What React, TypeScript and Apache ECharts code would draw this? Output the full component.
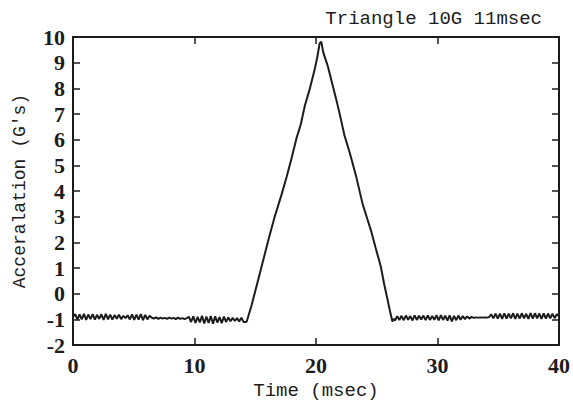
import React, { useEffect, useRef } from "react";
import * as echarts from "echarts";

const TITLE = "Triangle 10G 11msec";
const X_NAME = "Time (msec)";
const Y_NAME = "Acceralation (G's)";

const SAMPLE_STEP = 0.18;

// baseline before the pulse, sampled from t = 0
const LEFT_START = 0;
const leftBaseline = [
  -0.90, -0.79, -1.01, -0.80, -1.00, -0.78, -1.02, -0.81, -0.99, -0.79, -1.01, -0.82,
  -0.98, -0.80, -1.02, -0.78, -1.00, -0.81, -1.01, -0.83, -0.97, -0.82, -0.99, -0.86,
  -0.95, -0.84, -1.00, -0.80, -1.02, -0.81, -1.01, -0.79, -1.03, -0.82, -1.00, -0.86,
  -0.93, -0.97, -0.92, -0.98, -0.93, -0.97, -0.94, -0.98, -0.93, -0.97, -0.94, -0.99,
  -0.93, -0.98, -0.95, -0.99, -0.95,
  -0.90, -1.10, -0.88, -1.14, -0.90, -1.12, -0.86, -1.16, -0.89, -1.14, -0.87, -1.17,
  -0.88, -1.12, -0.91, -1.15, -0.89, -1.10, -0.92, -1.07, -0.94, -1.06, -0.95, -1.08,
  -0.93, -1.10, -1.10,
];

// triangular pulse
const pulseTimes = [
  14.3, 14.7, 15.3, 16.08, 16.6, 17.17, 17.58, 18.0, 18.39, 18.75, 19.08, 19.5, 19.89,
  20.1, 20.3, 20.43, 20.6, 20.98, 21.3, 21.66, 22.0, 22.34, 22.8, 23.29, 23.84, 24.2,
  24.52, 24.9, 25.33, 25.6, 25.88, 26.1, 26.29, 26.4,
];
const pulseValues = [
  -1.08, -0.45, 0.65, 2.09, 3.0, 3.87, 4.55, 5.3, 6.05, 6.6, 7.32, 8.0, 8.73,
  9.2, 9.75, 9.82, 9.4, 8.85, 8.25, 7.58, 6.9, 6.17, 5.45, 4.6, 3.49, 2.95,
  2.47, 1.8, 1.07, 0.4, -0.21, -0.7, -1.08, -0.98,
];

// baseline after the pulse, sampled from t = 26.5
const RIGHT_START = 26.5;
const rightBaseline = [
  -1.04, -0.88, -1.02, -0.86, -1.03, -0.85, -1.01, -0.87, -1.04, -0.84, -1.02, -0.86,
  -1.00, -0.85, -1.03, -0.84, -1.02, -0.87, -1.01, -0.84, -1.04, -0.83, -1.02, -0.85,
  -1.05, -0.84, -1.08, -0.86, -1.03, -0.85, -1.01, -0.87, -0.99, -0.88, -0.97, -0.90,
  -0.94,
  -0.92, -0.93, -0.92, -0.93, -0.92, -0.93, -0.91,
  -0.80, -0.96, -0.78, -0.97, -0.77, -0.98, -0.76, -0.97, -0.78, -0.96, -0.76, -0.98,
  -0.77, -0.97, -0.76, -0.96, -0.78, -0.98, -0.75, -0.97, -0.76, -0.96, -0.77, -0.98,
  -0.76, -0.97, -0.77, -0.96, -0.78, -0.95, -0.80,
];
const END_TIME = 40;
const END_VALUE = -0.88;

const xTicks = [0, 10, 20, 30, 40];
const yTicks = [-2, -1, 0, 1, 2, 3, 4, 5, 6, 7, 8, 9, 10];

function buildData(): [number, number][] {
  const out: [number, number][] = [];
  leftBaseline.forEach((v, i) => out.push([+(LEFT_START + i * SAMPLE_STEP).toFixed(3), v]));
  pulseTimes.forEach((t, i) => out.push([t, pulseValues[i]]));
  rightBaseline.forEach((v, i) => out.push([+(RIGHT_START + i * SAMPLE_STEP).toFixed(3), v]));
  out.push([END_TIME, END_VALUE]);
  return out;
}

export default function App() {
  const ref = useRef<HTMLDivElement>(null);
  useEffect(() => {
    if (!ref.current) return;
    const chart = echarts.init(ref.current, undefined, { renderer: "svg" });
    const ink = "#1c1c1c";
    const labelFont = {
      color: ink,
      fontFamily: "Liberation Serif",
      fontWeight: "bold" as const,
      fontSize: 22,
    };
    const lineStyle = { color: ink, width: 2 };
    const xCommon = {
      type: "value" as const,
      min: xTicks[0],
      max: xTicks[xTicks.length - 1],
      interval: 10,
      splitLine: { show: false },
      axisLine: { show: true, onZero: false, lineStyle },
      axisTick: { show: true, inside: true, length: 7, lineStyle: { color: ink, width: 1.5 } },
    };
    const yCommon = {
      type: "value" as const,
      min: yTicks[0],
      max: yTicks[yTicks.length - 1],
      interval: 1,
      splitLine: { show: false },
      axisLine: { show: true, onZero: false, lineStyle },
      axisTick: { show: true, inside: true, length: 7, lineStyle: { color: ink, width: 1.5 } },
    };
    chart.setOption({
      animation: false,
      backgroundColor: "#ffffff",
      title: {
        text: TITLE,
        right: 26,
        top: 4,
        textStyle: {
          color: ink,
          fontFamily: "Liberation Mono",
          fontWeight: "normal",
          fontSize: 19,
        },
      },
      grid: { left: 73, right: 10, top: 37, bottom: 55 },
      xAxis: [
        {
          ...xCommon,
          position: "bottom",
          name: X_NAME,
          nameLocation: "middle",
          nameGap: 30,
          nameTextStyle: { color: ink, fontFamily: "Liberation Mono", fontSize: 19 },
          axisLabel: { ...labelFont, margin: 9 },
        },
        {
          ...xCommon,
          position: "top",
          axisLabel: { show: false },
        },
      ],
      yAxis: [
        {
          ...yCommon,
          position: "left",
          name: Y_NAME,
          nameLocation: "middle",
          nameGap: 44,
          nameTextStyle: { color: ink, fontFamily: "Liberation Mono", fontSize: 18 },
          axisLabel: { ...labelFont, margin: 8 },
        },
        {
          ...yCommon,
          position: "right",
          axisLabel: { show: false },
        },
      ],
      series: [
        {
          type: "line",
          data: buildData(),
          showSymbol: false,
          lineStyle: { color: ink, width: 2 },
          xAxisIndex: 0,
          yAxisIndex: 0,
        },
      ],
    });
    return () => chart.dispose();
  }, []);
  return (
    <div
      ref={ref}
      style={{ position: "fixed", left: 0, top: 0, width: 573, height: 405, background: "#fff" }}
    />
  );
}
